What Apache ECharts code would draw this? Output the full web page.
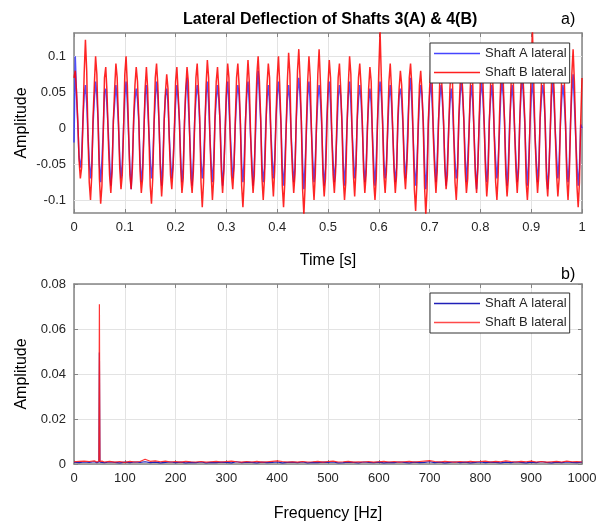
<!DOCTYPE html>
<html>
<head>
<meta charset="utf-8">
<script src="https://cdn.jsdelivr.net/npm/echarts@6/dist/echarts.min.js"></script>
<style>
  html, body { margin: 0; padding: 0; background: #fff; }
  #main { width: 607px; height: 525px; }
</style>
</head>
<body>
<div id="main"></div>
<script>
// time signal, 400 samples per second (8 per 50 Hz cycle), one row per cycle
const sampleRate = 400
const shaftA = [
  -0.020, 0.100, 0.045, 0.005, -0.040, -0.055, -0.040, 0.010,
  0.045, 0.060, 0.035, -0.010, -0.045, -0.070, -0.050, 0.005,
  0.040, 0.065, 0.045, 0.010, -0.050, -0.075, -0.045, -0.005,
  0.050, 0.055, 0.030, -0.005, -0.045, -0.080, -0.055, 0.010,
  0.035, 0.060, 0.040, 0.005, -0.040, -0.070, -0.050, 0.000,
  0.045, 0.065, 0.035, -0.010, -0.055, -0.085, -0.045, 0.010,
  0.040, 0.055, 0.040, 0.010, -0.045, -0.075, -0.055, -0.005,
  0.045, 0.060, 0.030, -0.005, -0.040, -0.070, -0.050, 0.005,
  0.040, 0.065, 0.045, 0.005, -0.050, -0.080, -0.045, 0.010,
  0.045, 0.055, 0.035, -0.010, -0.045, -0.070, -0.050, -0.005,
  0.035, 0.060, 0.040, 0.010, -0.040, -0.075, -0.055, 0.005,
  0.050, 0.070, 0.035, -0.005, -0.050, -0.080, -0.045, 0.010,
  0.040, 0.060, 0.045, 0.005, -0.045, -0.070, -0.050, 0.000,
  0.045, 0.065, 0.035, -0.010, -0.050, -0.075, -0.045, 0.010,
  0.040, 0.060, 0.040, 0.010, -0.045, -0.080, -0.055, -0.005,
  0.045, 0.065, 0.030, -0.005, -0.040, -0.070, -0.050, 0.005,
  0.040, 0.060, 0.045, 0.005, -0.050, -0.075, -0.045, 0.010,
  0.045, 0.065, 0.035, -0.010, -0.045, -0.080, -0.050, -0.005,
  0.055, 0.080, 0.045, 0.010, -0.050, -0.075, -0.055, 0.005,
  0.040, 0.060, 0.035, -0.005, -0.040, -0.070, -0.045, 0.010,
  0.045, 0.065, 0.040, 0.005, -0.055, -0.080, -0.050, 0.000,
  0.040, 0.060, 0.035, -0.010, -0.045, -0.075, -0.055, 0.010,
  0.050, 0.070, 0.045, 0.010, -0.050, -0.085, -0.050, -0.005,
  0.045, 0.065, 0.035, -0.005, -0.045, -0.075, -0.045, 0.005,
  0.040, 0.060, 0.040, 0.005, -0.050, -0.080, -0.055, 0.010,
  0.045, 0.065, 0.035, -0.010, -0.045, -0.075, -0.050, -0.005,
  0.040, 0.060, 0.045, 0.010, -0.050, -0.080, -0.045, 0.005,
  0.045, 0.065, 0.035, -0.005, -0.040, -0.070, -0.050, 0.010,
  0.040, 0.060, 0.040, 0.005, -0.045, -0.075, -0.055, 0.000,
  0.035, 0.055, 0.035, -0.010, -0.050, -0.080, -0.045, 0.010,
  0.045, 0.065, 0.045, 0.010, -0.045, -0.070, -0.050, -0.005,
  0.040, 0.060, 0.035, -0.005, -0.050, -0.075, -0.055, 0.005,
  0.045, 0.055, 0.040, 0.005, -0.040, -0.070, -0.045, 0.010,
  0.050, 0.070, 0.035, -0.010, -0.055, -0.080, -0.050, -0.005,
  0.040, 0.060, 0.045, 0.010, -0.050, -0.085, -0.055, 0.005,
  0.045, 0.065, 0.035, -0.005, -0.045, -0.075, -0.045, 0.010,
  0.040, 0.060, 0.040, 0.005, -0.050, -0.080, -0.050, 0.000,
  0.035, 0.055, 0.035, -0.010, -0.045, -0.070, -0.055, 0.010,
  0.045, 0.065, 0.045, 0.010, -0.040, -0.075, -0.045, -0.005,
  0.040, 0.060, 0.035, -0.005, -0.055, -0.085, -0.050, 0.005,
  0.045, 0.065, 0.040, 0.005, -0.045, -0.075, -0.055, 0.010,
  0.040, 0.060, 0.035, -0.010, -0.045, -0.070, -0.045, -0.005,
  0.045, 0.065, 0.045, 0.010, -0.050, -0.080, -0.050, 0.005,
  0.040, 0.060, 0.035, -0.005, -0.045, -0.075, -0.055, 0.010,
  0.050, 0.070, 0.040, 0.005, -0.050, -0.080, -0.045, 0.000,
  0.045, 0.065, 0.035, -0.010, -0.045, -0.075, -0.050, 0.010,
  0.040, 0.060, 0.045, 0.010, -0.055, -0.085, -0.055, -0.005,
  0.045, 0.065, 0.035, -0.005, -0.040, -0.070, -0.045, 0.005,
  0.040, 0.060, 0.040, 0.005, -0.050, -0.075, -0.050, 0.010,
  0.050, 0.075, 0.035, -0.010, -0.050, -0.080, -0.055, 0.005,
  0.000
]
const shaftB = [
  0.070, 0.080, 0.050, 0.010, -0.045, -0.070, -0.055, 0.005,
  0.075, 0.123, 0.080, -0.010, -0.075, -0.100, -0.065, 0.015,
  0.060, 0.100, 0.075, 0.005, -0.070, -0.105, -0.080, -0.010,
  0.070, 0.085, 0.050, -0.015, -0.065, -0.090, -0.060, 0.010,
  0.055, 0.090, 0.070, 0.010, -0.055, -0.085, -0.065, -0.005,
  0.075, 0.100, 0.060, -0.005, -0.065, -0.085, -0.055, 0.015,
  0.060, 0.085, 0.065, 0.015, -0.060, -0.090, -0.070, -0.010,
  0.055, 0.085, 0.055, -0.010, -0.080, -0.105, -0.070, 0.005,
  0.070, 0.090, 0.060, 0.005, -0.060, -0.095, -0.065, 0.010,
  0.050, 0.075, 0.055, -0.015, -0.065, -0.085, -0.055, -0.005,
  0.065, 0.085, 0.050, 0.010, -0.055, -0.090, -0.070, 0.010,
  0.055, 0.085, 0.065, -0.005, -0.070, -0.090, -0.060, 0.005,
  0.070, 0.090, 0.055, 0.015, -0.075, -0.110, -0.075, -0.010,
  0.060, 0.095, 0.070, -0.010, -0.065, -0.100, -0.070, 0.015,
  0.065, 0.085, 0.055, 0.005, -0.060, -0.090, -0.060, -0.005,
  0.055, 0.090, 0.070, -0.015, -0.065, -0.085, -0.055, 0.010,
  0.070, 0.090, 0.060, 0.010, -0.080, -0.110, -0.075, 0.005,
  0.060, 0.095, 0.065, -0.005, -0.060, -0.090, -0.065, 0.015,
  0.075, 0.100, 0.065, 0.015, -0.070, -0.100, -0.070, -0.010,
  0.060, 0.090, 0.070, -0.010, -0.065, -0.095, -0.060, 0.010,
  0.070, 0.100, 0.060, 0.005, -0.080, -0.110, -0.075, -0.005,
  0.065, 0.105, 0.075, -0.015, -0.060, -0.090, -0.065, 0.015,
  0.080, 0.110, 0.070, 0.010, -0.085, -0.120, -0.080, 0.005,
  0.065, 0.100, 0.070, -0.005, -0.070, -0.100, -0.065, 0.010,
  0.075, 0.110, 0.065, 0.015, -0.065, -0.095, -0.070, -0.010,
  0.060, 0.095, 0.070, -0.010, -0.065, -0.090, -0.060, 0.010,
  0.070, 0.090, 0.055, 0.005, -0.070, -0.100, -0.075, 0.005,
  0.060, 0.100, 0.075, -0.010, -0.065, -0.095, -0.060, 0.015,
  0.070, 0.090, 0.060, 0.010, -0.060, -0.090, -0.065, -0.005,
  0.055, 0.085, 0.065, -0.015, -0.075, -0.100, -0.070, 0.010,
  0.080, 0.135, 0.070, 0.005, -0.065, -0.090, -0.060, 0.005,
  0.065, 0.090, 0.055, -0.005, -0.060, -0.090, -0.065, 0.015,
  0.055, 0.080, 0.060, 0.010, -0.060, -0.085, -0.055, -0.010,
  0.070, 0.090, 0.060, -0.010, -0.085, -0.115, -0.075, 0.005,
  0.060, 0.080, 0.050, 0.005, -0.080, -0.120, -0.085, 0.010,
  0.055, 0.085, 0.065, -0.015, -0.060, -0.090, -0.060, 0.005,
  0.065, 0.080, 0.050, 0.010, -0.055, -0.085, -0.065, -0.005,
  0.055, 0.085, 0.065, -0.005, -0.075, -0.100, -0.065, 0.015,
  0.060, 0.080, 0.055, 0.010, -0.060, -0.090, -0.070, -0.010,
  0.055, 0.085, 0.060, -0.010, -0.065, -0.090, -0.055, 0.010,
  0.070, 0.090, 0.065, 0.005, -0.060, -0.095, -0.070, 0.005,
  0.060, 0.090, 0.055, -0.015, -0.075, -0.100, -0.065, 0.015,
  0.065, 0.085, 0.065, 0.010, -0.065, -0.095, -0.070, -0.005,
  0.055, 0.090, 0.060, -0.005, -0.060, -0.090, -0.060, 0.010,
  0.065, 0.085, 0.055, 0.010, -0.075, -0.100, -0.070, 0.005,
  0.085, 0.135, 0.065, -0.010, -0.060, -0.090, -0.065, 0.015,
  0.060, 0.090, 0.065, 0.005, -0.070, -0.095, -0.060, -0.005,
  0.065, 0.085, 0.055, -0.010, -0.065, -0.095, -0.070, 0.010,
  0.070, 0.100, 0.070, 0.010, -0.070, -0.100, -0.065, 0.005,
  0.075, 0.110, 0.065, -0.005, -0.080, -0.110, -0.075, 0.010,
  0.070
]

// amplitude spectrum
const freqHz = [
  0, 10, 20, 30, 40, 45, 49, 50, 51, 55,
  60, 70, 80, 90, 100, 110, 120, 130, 140, 150,
  160, 170, 180, 190, 200, 210, 220, 230, 240, 250,
  260, 270, 280, 290, 300, 310, 320, 330, 340, 350,
  360, 370, 380, 390, 400, 410, 420, 430, 440, 450,
  460, 470, 480, 490, 500, 510, 520, 530, 540, 550,
  560, 570, 580, 590, 600, 610, 620, 630, 640, 650,
  660, 670, 680, 690, 700, 710, 720, 730, 740, 750,
  760, 770, 780, 790, 800, 810, 820, 830, 840, 850,
  860, 870, 880, 890, 900, 910, 920, 930, 940, 950,
  960, 970, 980, 990, 1000
]
const specA = [
  0.0008, 0.0006, 0.0009, 0.0007, 0.0010, 0.0006, 0.0009, 0.0495, 0.0008, 0.0007,
  0.0006, 0.0009, 0.0007, 0.0005, 0.0008, 0.0006, 0.0009, 0.0007, 0.0010, 0.0006,
  0.0008, 0.0005, 0.0007, 0.0009, 0.0006, 0.0008, 0.0005, 0.0007, 0.0006, 0.0009,
  0.0005, 0.0007, 0.0006, 0.0008, 0.0007, 0.0005, 0.0010, 0.0006, 0.0008, 0.0007,
  0.0005, 0.0008, 0.0006, 0.0007, 0.0009, 0.0005, 0.0007, 0.0008, 0.0006, 0.0009,
  0.0005, 0.0007, 0.0006, 0.0008, 0.0007, 0.0009, 0.0005, 0.0006, 0.0008, 0.0007,
  0.0005, 0.0009, 0.0007, 0.0006, 0.0008, 0.0005, 0.0007, 0.0006, 0.0009, 0.0007,
  0.0005, 0.0008, 0.0006, 0.0007, 0.0010, 0.0006, 0.0008, 0.0005, 0.0007, 0.0009,
  0.0006, 0.0008, 0.0005, 0.0007, 0.0009, 0.0006, 0.0008, 0.0007, 0.0005, 0.0008,
  0.0006, 0.0009, 0.0007, 0.0005, 0.0008, 0.0006, 0.0010, 0.0007, 0.0005, 0.0008,
  0.0006, 0.0009, 0.0007, 0.0006, 0.0008
]
const specB = [
  0.0010, 0.0012, 0.0013, 0.0011, 0.0014, 0.0009, 0.0012, 0.0710, 0.0011, 0.0013,
  0.0009, 0.0012, 0.0008, 0.0011, 0.0007, 0.0012, 0.0009, 0.0011, 0.0021, 0.0012,
  0.0014, 0.0010, 0.0013, 0.0009, 0.0011, 0.0008, 0.0012, 0.0010, 0.0009, 0.0011,
  0.0008, 0.0010, 0.0012, 0.0009, 0.0011, 0.0013, 0.0010, 0.0008, 0.0011, 0.0009,
  0.0012, 0.0008, 0.0010, 0.0012, 0.0014, 0.0011, 0.0009, 0.0010, 0.0008, 0.0011,
  0.0009, 0.0010, 0.0012, 0.0008, 0.0011, 0.0013, 0.0009, 0.0010, 0.0012, 0.0008,
  0.0010, 0.0009, 0.0011, 0.0008, 0.0010, 0.0012, 0.0009, 0.0011, 0.0008, 0.0010,
  0.0012, 0.0009, 0.0011, 0.0013, 0.0015, 0.0011, 0.0009, 0.0012, 0.0010, 0.0008,
  0.0011, 0.0009, 0.0012, 0.0010, 0.0011, 0.0013, 0.0009, 0.0012, 0.0010, 0.0014,
  0.0011, 0.0009, 0.0012, 0.0010, 0.0013, 0.0009, 0.0011, 0.0008, 0.0010, 0.0012,
  0.0009, 0.0013, 0.0010, 0.0011, 0.0009
]

const timeTicks = [-0.1, -0.05, 0, 0.05, 0.1]

const font = 'Liberation Sans, Arial, sans-serif'
const frame = { show: true, onZero: false, lineStyle: { color: '#858585', width: 1.5 } }
const inTick = { show: true, inside: true, length: 4, lineStyle: { color: '#858585' } }
const grid = { show: true, lineStyle: { color: '#e3e3e3', width: 1 } }
const tickLabel = { fontFamily: font, fontSize: 13, color: '#262626', margin: 8 }
const nameStyle = { fontFamily: font, fontSize: 16, color: '#000' }

// box edge axes: ticks only, no labels
function edge(gridIndex, position, min, max, interval, custom) {
  const ax = {
    gridIndex, position, type: 'value', min, max,
    axisLine: frame, axisLabel: { show: false }, splitLine: { show: false },
    axisTick: Object.assign({}, inTick)
  }
  if (interval) ax.interval = interval
  if (custom) ax.axisTick.customValues = custom
  return ax
}

const legendBase = {
  orient: 'vertical',
  left: 430,
  z: 20,
  backgroundColor: '#fff',
  borderColor: '#333',
  borderWidth: 1,
  borderRadius: 0,
  padding: [4, 3, 4, 4],
  itemGap: 6,
  itemWidth: 46,
  itemHeight: 13,
  symbolKeepAspect: true,
  icon: 'path://M0 0 H46 V1.5 H0 Z',
  textStyle: { fontFamily: font, fontSize: 13, color: '#262626' }
}

const chart = echarts.init(document.getElementById('main'))
chart.setOption({
  animation: false,
  backgroundColor: '#fff',
  title: [
    { text: 'Lateral Deflection of Shafts 3(A) & 4(B)', left: 183, top: 12, padding: 0,
      textStyle: { fontFamily: font, fontSize: 16, fontWeight: 'bold', color: '#000' } },
    { text: 'a)', left: 561, top: 12, padding: 0,
      textStyle: { fontFamily: font, fontSize: 16, fontWeight: 'normal', color: '#000' } },
    { text: 'b)', left: 561, top: 267, padding: 0,
      textStyle: { fontFamily: font, fontSize: 16, fontWeight: 'normal', color: '#000' } }
  ],
  legend: [
    Object.assign({}, legendBase, {
      top: 43,
      data: [
        { name: 'Shaft A lateral', itemStyle: { color: '#4646ff' }, lineStyle: { color: '#4646ff' } },
        { name: 'Shaft B lateral', itemStyle: { color: '#ff2020' }, lineStyle: { color: '#ff2020' } }
      ]
    }),
    Object.assign({}, legendBase, {
      top: 293,
      data: [
        { name: 'Shaft A lateral', itemStyle: { color: '#2020b8' }, lineStyle: { color: '#2020b8' } },
        { name: 'Shaft B lateral', itemStyle: { color: '#ff4a4a' }, lineStyle: { color: '#ff4a4a' } }
      ]
    })
  ],
  grid: [
    { left: 74, right: 25, top: 33, height: 180 },
    { left: 74, right: 25, top: 284, height: 180 }
  ],
  xAxis: [
    { gridIndex: 0, type: 'value', position: 'bottom', min: 0, max: 1, interval: 0.1,
      name: 'Time [s]', nameLocation: 'middle', nameGap: 40, nameTextStyle: nameStyle,
      axisLine: frame, axisTick: inTick, axisLabel: tickLabel, splitLine: grid },
    edge(0, 'top', 0, 1, 0.1),
    { gridIndex: 1, type: 'value', position: 'bottom', min: 0, max: 1000, interval: 100,
      name: 'Frequency [Hz]', nameLocation: 'middle', nameGap: 42, nameTextStyle: nameStyle,
      axisLine: frame, axisTick: inTick,
      axisLabel: Object.assign({}, tickLabel, { formatter: v => String(v) }),
      splitLine: grid },
    edge(1, 'top', 0, 1000, 100)
  ],
  yAxis: [
    { gridIndex: 0, type: 'value', position: 'left', min: -0.118, max: 0.1325,
      name: 'Amplitude', nameLocation: 'middle', nameGap: 44, nameMoveOverlap: false,
      nameTextStyle: nameStyle,
      axisLine: frame,
      axisTick: Object.assign({}, inTick, { customValues: timeTicks }),
      axisLabel: Object.assign({}, tickLabel, { customValues: timeTicks }),
      splitLine: { show: false } },
    edge(0, 'right', -0.118, 0.1325, null, timeTicks),
    { gridIndex: 1, type: 'value', position: 'left', min: 0, max: 0.08, interval: 0.02,
      name: 'Amplitude', nameLocation: 'middle', nameGap: 44, nameMoveOverlap: false,
      nameTextStyle: nameStyle,
      axisLine: frame, axisTick: inTick, axisLabel: tickLabel, splitLine: grid },
    edge(1, 'right', 0, 0.08, 0.02)
  ],
  series: [
    // horizontal grid lines of the time plot, at the labelled ticks
    { type: 'line', xAxisIndex: 0, yAxisIndex: 0, z: 1, data: [], silent: true,
      markLine: {
        silent: true, symbol: 'none', label: { show: false }, z: 1,
        lineStyle: { color: '#e3e3e3', width: 1, type: 'solid' },
        data: timeTicks.map(v => ({ yAxis: v }))
      } },
    { name: 'Shaft A lateral', type: 'line', xAxisIndex: 0, yAxisIndex: 0,
      symbol: 'none', lineStyle: { color: 'rgba(50,50,255,0.85)', width: 1.5 },
      itemStyle: { color: '#4646ff' },
      data: shaftA.map((v, i) => [i / sampleRate, v]) },
    { name: 'Shaft B lateral', type: 'line', xAxisIndex: 0, yAxisIndex: 0,
      symbol: 'none', lineStyle: { color: 'rgba(255,0,0,0.85)', width: 1.5 },
      itemStyle: { color: '#ff2020' },
      data: shaftB.map((v, i) => [i / sampleRate, v]) },
    { name: 'Shaft A lateral', type: 'line', xAxisIndex: 2, yAxisIndex: 2,
      symbol: 'none', lineStyle: { color: '#2020b8', width: 1.2 },
      itemStyle: { color: '#2020b8' },
      data: freqHz.map((f, i) => [f, specA[i]]) },
    { name: 'Shaft B lateral', type: 'line', xAxisIndex: 2, yAxisIndex: 2,
      symbol: 'none', lineStyle: { color: 'rgba(255,30,30,0.9)', width: 1.2 },
      itemStyle: { color: '#ff4a4a' },
      data: freqHz.map((f, i) => [f, specB[i]]) }
  ]
})
</script>
</body>
</html>
